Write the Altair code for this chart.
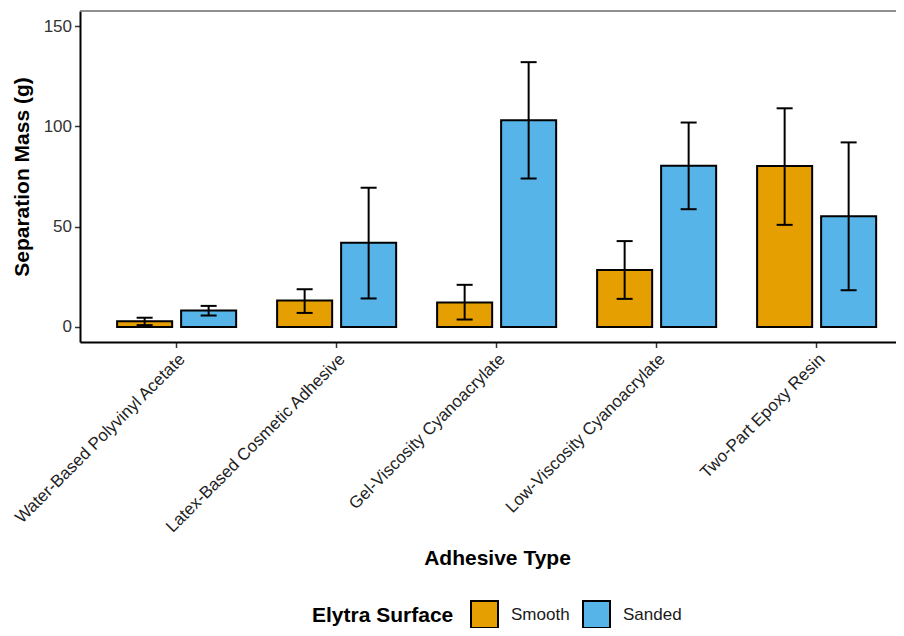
import altair as alt
import pandas as pd

adhesives = [
    "Water-Based Polyvinyl Acetate",
    "Latex-Based Cosmetic Adhesive",
    "Gel-Viscosity Cyanoacrylate",
    "Low-Viscosity Cyanoacrylate",
    "Two-Part Epoxy Resin",
]
surfaces = ["Smooth", "Sanded"]
smooth_mean = [2.8, 13.2, 12.2, 28.4, 80.2]
smooth_lo = [0.9, 7.0, 3.7, 14.0, 50.9]
smooth_hi = [4.6, 18.8, 21.0, 42.8, 109.0]
sanded_mean = [8.2, 42.0, 103.0, 80.4, 55.2]
sanded_lo = [5.7, 14.2, 74.0, 58.7, 18.3]
sanded_hi = [10.5, 69.4, 132.0, 101.9, 92.0]
colors = ["#E69F00", "#56B4E9"]

rows = []
for i, a in enumerate(adhesives):
    rows.append({"adhesive": a, "surface": "Smooth", "mean": smooth_mean[i], "lo": smooth_lo[i], "hi": smooth_hi[i]})
    rows.append({"adhesive": a, "surface": "Sanded", "mean": sanded_mean[i], "lo": sanded_lo[i], "hi": sanded_hi[i]})
df = pd.DataFrame(rows)

FONT = "Liberation Sans, Arial, sans-serif"
W, H = 816, 331

x_enc = alt.X(
    "adhesive:N",
    sort=adhesives,
    title="Adhesive Type",
    scale=alt.Scale(paddingInner=0.2, paddingOuter=0.15, align=0.68),
    axis=alt.Axis(
        labelAngle=-45, labelAlign="right", labelBaseline="top",
        labelFontSize=17, labelColor="#222222", labelLimit=400, labelPadding=3,
        tickSize=5.5, tickColor="#333333", tickWidth=1.5,
        domainColor="black", domainWidth=2,
        titleFontSize=21, titleFontWeight="bold", titleColor="black",
        titleX=417, titleY=216, titleBaseline="middle", titleAlign="center",
    ),
)
xoff = alt.XOffset("surface:N", sort=surfaces,
                   scale=alt.Scale(paddingInner=0.14, paddingOuter=0.07))
y_scale = alt.Scale(domain=[-7.5, 157.5], nice=False, zero=False)
y_axis = alt.Axis(
    values=[0, 50, 100, 150], grid=False,
    labelFontSize=17, labelColor="#333333", labelPadding=3,
    tickSize=5.5, tickColor="#333333", tickWidth=1.5,
    domainColor="black", domainWidth=2,
    titleFontSize=21, titleFontWeight="bold", titleColor="black",
    titleX=-58, titleY=165.5, titleAlign="center", titleBaseline="middle", titleAngle=270,
)
YT = "Separation Mass (g)"

base = alt.Chart(df)

bars = base.mark_bar(stroke="black", strokeWidth=2).encode(
    x=x_enc,
    xOffset=xoff,
    y=alt.Y("mean:Q", scale=y_scale, axis=y_axis, title=YT),
    y2=alt.datum(0),
    color=alt.Color(
        "surface:N",
        sort=surfaces,
        scale=alt.Scale(domain=surfaces, range=colors),
        legend=alt.Legend(
            orient="none", legendX=232, legendY=589, direction="horizontal",
            title="Elytra Surface", titleOrient="left", titleFontSize=21,
            titleFontWeight="bold", titleColor="black", titlePadding=16,
            labelFontSize=17, labelColor="#1a1a1a", labelOffset=12,
            columnPadding=9, padding=0,
            symbolType="square", symbolSize=729, symbolStrokeColor="black",
            symbolStrokeWidth=2, symbolOpacity=1,
        ),
    ),
)

rules = base.mark_rule(color="black", strokeWidth=2).encode(
    x=x_enc, xOffset=xoff,
    y=alt.Y("lo:Q", scale=y_scale, axis=y_axis, title=YT),
    y2="hi:Q",
)
cap_lo = base.mark_tick(color="black", size=16, thickness=2, orient="horizontal", opacity=1).encode(
    x=x_enc, xOffset=xoff, y=alt.Y("lo:Q", scale=y_scale, axis=y_axis, title=YT),
)
cap_hi = base.mark_tick(color="black", size=16, thickness=2, orient="horizontal", opacity=1).encode(
    x=x_enc, xOffset=xoff, y=alt.Y("hi:Q", scale=y_scale, axis=y_axis, title=YT),
)

top_line = alt.Chart(pd.DataFrame({"k": [0]})).mark_rule(color="#6b6b6b", strokeWidth=1.4).encode(
    x=alt.value(0), x2=alt.value(W), y=alt.value(0),
)

chart = alt.layer(bars, rules, cap_lo, cap_hi, top_line).properties(
    width=W, height=H,
    autosize=alt.AutoSizeParams(type="none"),
    padding={"left": 72, "top": 3, "right": 0, "bottom": 286},
).configure_view(stroke=None).configure_axis(
    labelFont=FONT, titleFont=FONT
).configure_legend(
    labelFont=FONT, titleFont=FONT
)

chart.save("out.html", embed_options={"renderer": "svg", "actions": False})
